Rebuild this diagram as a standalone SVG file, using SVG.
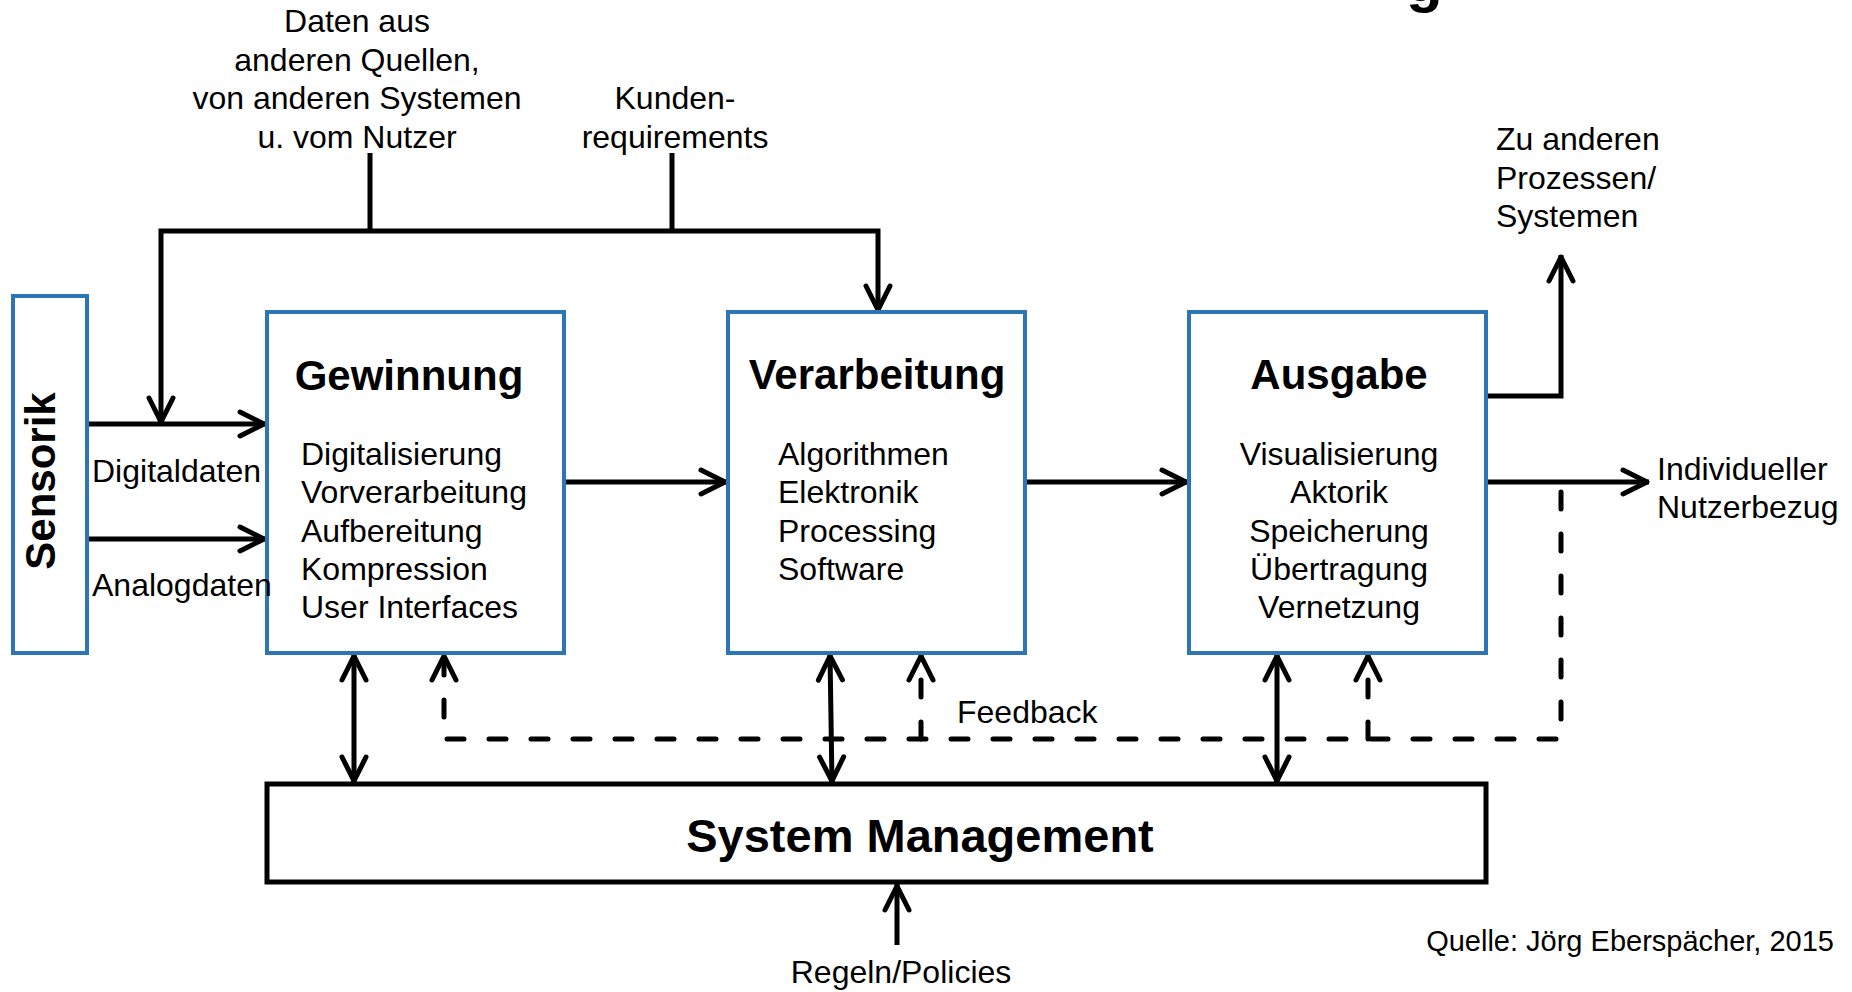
<svg xmlns="http://www.w3.org/2000/svg" width="1852" height="992" viewBox="0 0 1852 992">
<style>
text{font-family:"Liberation Sans",Arial,sans-serif;fill:#000}
.t{font-size:32px}
.b{font-weight:bold;font-size:42px}
.box{fill:#fff;stroke:#2E75B6;stroke-width:4}
.ln{fill:none;stroke:#000;stroke-width:5}
.dash{fill:none;stroke:#000;stroke-width:5;stroke-dasharray:17 25;stroke-linecap:round}
</style>
<defs>
<marker id="arr" markerUnits="userSpaceOnUse" viewBox="-30 -20 40 40" markerWidth="40" markerHeight="40" refX="2" refY="0" orient="auto-start-reverse" overflow="visible">
<path d="M-24,-12 L0,0 L-24,12" fill="none" stroke="#000" stroke-width="5" stroke-dasharray="none" stroke-linejoin="round" stroke-linecap="round"/>
</marker>
</defs>
<rect width="1852" height="992" fill="#fff"/>
<g id="title-fragment"><text x="1406" y="1" style="font-weight:bold;font-size:60px">g</text></g>
<g id="connectors">
<path class="ln" d="M370,153 V231"/>
<path class="ln" d="M672,153 V231"/>
<path class="ln" d="M161,424 V231 H878 V312" marker-start="url(#arr)" marker-end="url(#arr)"/>
<path class="ln" d="M88,424 H266" marker-end="url(#arr)"/>
<path class="ln" d="M88,539 H266" marker-end="url(#arr)"/>
<path class="ln" d="M565,482 H727" marker-end="url(#arr)"/>
<path class="ln" d="M1026,482 H1188" marker-end="url(#arr)"/>
<path class="ln" d="M1487,482 H1649" marker-end="url(#arr)"/>
<path class="ln" d="M1487,396 H1561 V255" marker-end="url(#arr)"/>
<path class="ln" d="M354,654 V783" marker-start="url(#arr)" marker-end="url(#arr)"/>
<path class="ln" d="M830,654 L832,783" marker-start="url(#arr)" marker-end="url(#arr)"/>
<path class="ln" d="M1277,654 V783" marker-start="url(#arr)" marker-end="url(#arr)"/>
<path class="dash" d="M1561,492 V739 H444 V654" marker-end="url(#arr)"/>
<path class="dash" d="M921,739 V654" marker-end="url(#arr)"/>
<path class="dash" d="M1368,739 V654" marker-end="url(#arr)"/>
<path class="ln" d="M897,945 V884" marker-end="url(#arr)"/>
</g>
<g id="sensorik">
<rect class="box" x="13" y="296" width="74" height="357"/>
<text class="b" transform="translate(55,481) rotate(-90)" text-anchor="middle">Sensorik</text>
</g>
<g id="gewinnung">
<rect class="box" x="267" y="312" width="297" height="341"/>
<text class="b" x="409" y="390" text-anchor="middle">Gewinnung</text>
<text class="t" x="301" y="465">Digitalisierung</text>
<text class="t" x="301" y="503">Vorverarbeitung</text>
<text class="t" x="301" y="542">Aufbereitung</text>
<text class="t" x="301" y="580">Kompression</text>
<text class="t" x="301" y="618">User Interfaces</text>
</g>
<g id="verarbeitung">
<rect class="box" x="728" y="312" width="297" height="341"/>
<text class="b" x="877" y="389" text-anchor="middle">Verarbeitung</text>
<text class="t" x="778" y="465">Algorithmen</text>
<text class="t" x="778" y="503">Elektronik</text>
<text class="t" x="778" y="542">Processing</text>
<text class="t" x="778" y="580">Software</text>
</g>
<g id="ausgabe">
<rect class="box" x="1189" y="312" width="297" height="341"/>
<text class="b" x="1339" y="389" text-anchor="middle">Ausgabe</text>
<text class="t" x="1339" y="465" text-anchor="middle">Visualisierung</text>
<text class="t" x="1339" y="503" text-anchor="middle">Aktorik</text>
<text class="t" x="1339" y="542" text-anchor="middle">Speicherung</text>
<text class="t" x="1339" y="580" text-anchor="middle">Übertragung</text>
<text class="t" x="1339" y="618" text-anchor="middle">Vernetzung</text>
</g>
<g id="system-management">
<rect x="267" y="784" width="1219" height="98" fill="#fff" stroke="#000" stroke-width="5"/>
<text x="920" y="852" text-anchor="middle" style="font-weight:bold;font-size:47px">System Management</text>
</g>
<g id="labels">
<text class="t" x="357" y="32" text-anchor="middle">Daten aus</text>
<text class="t" x="357" y="71" text-anchor="middle">anderen Quellen,</text>
<text class="t" x="357" y="109" text-anchor="middle">von anderen Systemen</text>
<text class="t" x="357" y="148" text-anchor="middle">u. vom Nutzer</text>
<text class="t" x="675" y="109" text-anchor="middle">Kunden-</text>
<text class="t" x="675" y="148" text-anchor="middle">requirements</text>
<text class="t" x="1496" y="150">Zu anderen</text>
<text class="t" x="1496" y="189">Prozessen/</text>
<text class="t" x="1496" y="227">Systemen</text>
<text class="t" x="92" y="482">Digitaldaten</text>
<text class="t" x="92" y="596">Analogdaten</text>
<text class="t" x="1657" y="480">Individueller</text>
<text class="t" x="1657" y="518">Nutzerbezug</text>
<text class="t" x="957" y="723">Feedback</text>
<text class="t" x="901" y="983" text-anchor="middle">Regeln/Policies</text>
<text x="1834" y="951" text-anchor="end" style="font-size:29px">Quelle: Jörg Eberspächer, 2015</text>
</g>
</svg>
